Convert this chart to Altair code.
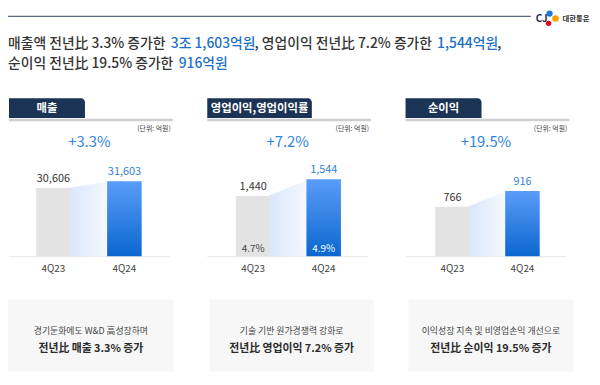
import altair as alt
import pandas as pd

# ---------------- data ----------------
periods = ["4Q23", "4Q24"]
sales = [30606, 31603]
op_profit = [1440, 1544]
op_margin = ["4.7%", "4.9%"]
net_income = [766, 916]
growth = ["+3.3%", "+7.2%", "+19.5%"]
panel_titles = ["매출", "영업이익,영업이익률", "순이익"]
unit_label = "(단위: 억원)"
note_line1 = ["경기둔화에도 W&D 高성장하며", "기술 기반 원가경쟁력 강화로", "이익성장 지속 및 비영업손익 개선으로"]
note_line2 = ["전년比 매출 3.3% 증가", "전년比 영업이익 7.2% 증가", "전년比 순이익 19.5% 증가"]
title_line1 = ["매출액 전년比 3.3% 증가한", "3조 1,603억원", ", 영업이익 전년比 7.2% 증가한", "1,544억원", ","]
title_line2 = ["순이익 전년比 19.5% 증가한", "916억원"]
logo_text = ["CJ", "대한통운"]

# ---------------- styles ----------------
FONT = "Noto Sans CJK KR"
DARK = "#333333"
BLUE_T = "#1c6fc6"
BLUE_G = "#3184dc"
NAVY = "#1b3354"
W, H = 592, 377

def one():
    return pd.DataFrame({"a": [0]})

def txt(s, x, y, size, color, weight="normal", align="left", baseline="middle"):
    return alt.Chart(pd.DataFrame({"t": [s]})).mark_text(
        font=FONT, fontSize=size, color=color, fontWeight=weight,
        align=align, baseline=baseline
    ).encode(x=alt.value(x), y=alt.value(y), text="t:N")

def rect(x, x2, y, y2, color, **kw):
    return alt.Chart(one()).mark_rect(color=color, **kw).encode(
        x=alt.value(x), x2=alt.value(x2), y=alt.value(y), y2=alt.value(y2))

def rule(x, x2, y, color, w):
    return alt.Chart(one()).mark_rule(color=color, strokeWidth=w).encode(
        x=alt.value(x), x2=alt.value(x2), y=alt.value(y))

def dot(x, y, size, color):
    return alt.Chart(one()).mark_circle(color=color, size=size, opacity=1).encode(
        x=alt.value(x), y=alt.value(y))

layers = []

# top line + logo
layers.append(rule(0, 530, 6, "#5b6b80", 1.2))
layers.append(txt(logo_text[0], 541, 9, 10, "#1a2a4a", "bold", "center"))
layers.append(dot(549, 3, 40, "#1f78d1"))
layers.append(dot(555, 8, 45, "#f5a100"))
layers.append(dot(548, 13, 30, "#e3001b"))
layers.append(txt(logo_text[1], 562, 9, 7.5, "#333333", "bold", "left"))

# headline
TS = 14
t1_x = [0, 165, 250, 435, 496]
t1_c = [DARK, BLUE_T, DARK, BLUE_T, DARK]
for s, x, c in zip(title_line1, t1_x, t1_c):
    layers.append(txt(s, x, 34, TS, c, 500))
t2_x = [0, 173]
t2_c = [DARK, BLUE_T]
for s, x, c in zip(title_line2, t2_x, t2_c):
    layers.append(txt(s, x, 54.5, TS, c, 500))

blue_bar_grad = alt.Gradient(
    gradient="linear",
    stops=[alt.GradientStop(color="#5a9cf8", offset=0),
           alt.GradientStop(color="#0b67cf", offset=1)],
    x1=0, x2=0, y1=0, y2=1)
area_grad = alt.Gradient(
    gradient="linear",
    stops=[alt.GradientStop(color="#d8e6fb", offset=0),
           alt.GradientStop(color="#f6f9ff", offset=1)],
    x1=0, x2=1, y1=0, y2=0)

BASE_Y = 249
BAR_W = 35
header_w = [77, 106, 77]
bar_centers = [(41, 123), (243.5, 325), (445.5, 526.5)]
domains = [[20780, 33450], [1067, 1611], [297, 1132]]
values = [sales, op_profit, net_income]
inners = [None, op_margin, None]
box_x = [(0, 168), (204, 371), (406, 573)]

panels = []
for i in range(3):
    L = 1 + 201 * i
    # decorations
    layers.append(rect(L, L + header_w[i], 89, 109, NAVY, cornerRadiusTopRight=4))
    layers.append(txt(panel_titles[i], L + header_w[i] / 2, 99.5, 11.5, "white", "bold", "center"))
    layers.append(rule(L, L + 166, 111, "#cfcfcf", 2.5))
    layers.append(txt(unit_label, L + 164, 120, 7, "#444444", "normal", "right"))
    layers.append(txt(growth[i], L + 81.5, 133, 15, BLUE_G, "normal", "center"))
    layers.append(rule(L, L + 163, BASE_Y + 0.5, "#e8e8e8", 1))
    bx0, bx1 = box_x[i]
    layers.append(rect(bx0, bx1, 293, 366, "#f7f7f7"))
    layers.append(txt(note_line1[i], (bx0 + bx1) / 2, 325, 9, "#444444", "normal", "center"))
    layers.append(txt(note_line2[i], (bx0 + bx1) / 2, 343, 11, "#2a2a2a", "bold", "center"))

    # bars via scales
    vals = values[i]
    df = pd.DataFrame({
        "period": periods,
        "idx": [0, 1],
        "value": vals,
        "label": [f"{v:,}" for v in vals],
    })
    if inners[i] is not None:
        df["inner"] = inners[i]
    r0, r1 = bar_centers[i]
    hw = (BAR_W / 2) / (r1 - r0)
    xs = alt.Scale(domain=[0, 1], range=[r0, r1])
    ys = alt.Scale(domain=domains[i], range=[BASE_Y, BASE_Y - 89])
    X = alt.X("idx:Q", scale=xs, axis=None)
    Y = alt.Y("value:Q", scale=ys, axis=None)
    Y2 = alt.datum(domains[i][0])
    base = alt.Chart(df)

    conn = base.transform_calculate(
        xe=f"datum.idx == 0 ? {hw} : 1 - {hw}"
    ).mark_area(color=area_grad).encode(
        x=alt.X("xe:Q", scale=xs, axis=None), y=Y, y2=Y2)
    gray = base.transform_filter("datum.idx == 0").mark_bar(
        width=BAR_W, color="#e3e3e3").encode(x=X, y=Y, y2=Y2)
    blue = base.transform_filter("datum.idx == 1").mark_bar(
        width=BAR_W, color=blue_bar_grad).encode(x=X, y=Y, y2=Y2)
    lab = base.mark_text(font=FONT, fontSize=11, dy=-9, baseline="middle").encode(
        x=X, y=Y, text="label:N",
        color=alt.condition("datum.idx == 1", alt.value("#2f80d8"), alt.value("#333333")))
    xl = base.mark_text(font=FONT, fontSize=10, baseline="middle", color="#444444").encode(
        x=X, y=alt.value(262), text="period:N")
    sub = [conn, gray, blue, lab, xl]
    if inners[i] is not None:
        inn = base.mark_text(font=FONT, fontSize=10, baseline="middle").encode(
            x=X, y=alt.value(242), text="inner:N",
            color=alt.condition("datum.idx == 1", alt.value("white"), alt.value("#444444")))
        sub.append(inn)
    panels.append(alt.layer(*sub))

chart = alt.layer(*layers, *panels).resolve_scale(
    x="independent", y="independent"
).properties(
    width=W, height=H, padding=0,
    autosize=alt.AutoSizeParams(type="none"),
    background="white",
).configure_view(stroke=None)

chart.save("out.html", embed_options={"renderer": "svg", "actions": False})
